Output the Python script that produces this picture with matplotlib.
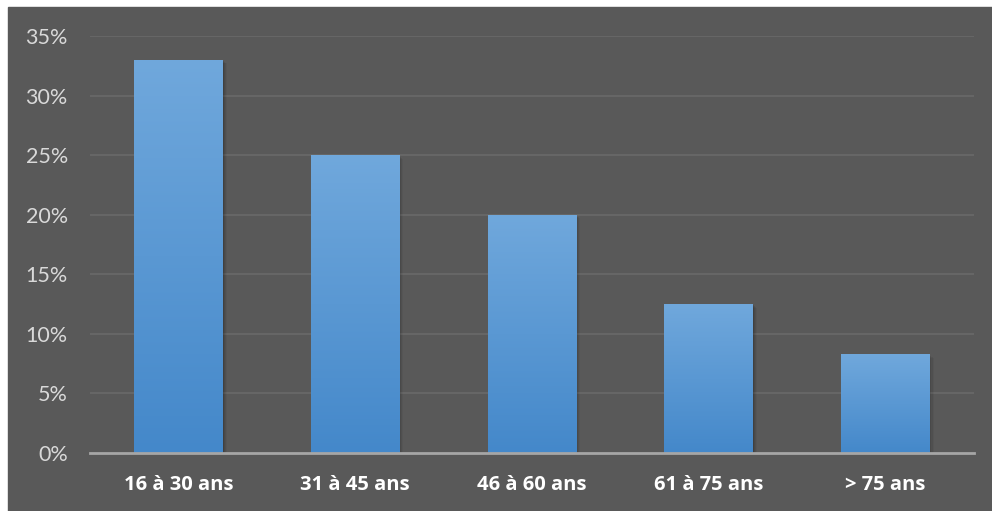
import numpy as np
import matplotlib.pyplot as plt
from matplotlib.patches import Rectangle

# tranches d'age et part en %
categories = ['16 à 30 ans', '31 à 45 ans', '46 à 60 ans', '61 à 75 ans', '> 75 ans']
values = [33, 25, 20, 12.5, 8.3]
yticks = [0, 5, 10, 15, 20, 25, 30, 35]

BG = '#595959'
TOP = np.array([0x70, 0xa8, 0xdc]) / 255
BOTTOM = np.array([0x44, 0x88, 0xca]) / 255

W, H = 992, 511
fig = plt.figure(figsize=(W / 100, H / 100), dpi=100)
fig.patch.set_facecolor('white')
fig.patches.append(Rectangle((8 / W, 0), 1 - 8 / W, (H - 7) / H,
                             transform=fig.transFigure, color=BG, zorder=-10))

ax = fig.add_axes([90 / W, (H - 453) / H, (973.5 - 90) / W, (453 - 36) / H])
ax.set_facecolor(BG)
ax.patch.set_alpha(0)

x = np.arange(len(values))
width = 0.5

# degrade vertical pour chaque barre
grad = np.linspace(0, 1, 256)[:, None, None]
img = BOTTOM + (TOP - BOTTOM) * grad
img = np.repeat(img, 2, axis=1)

for xi, v in zip(x, values):
    # ombre portee
    for k, a in enumerate([0.10, 0.08, 0.06, 0.04]):
        off = 0.006 * (k + 1)
        ax.add_patch(Rectangle((xi - width / 2 + off, -0.25 * (k + 1) * 0.3), width, v,
                               color='black', alpha=a, lw=0, zorder=2))
    bars = ax.bar(xi, v, width, color='none', zorder=3)
    im = ax.imshow(img, extent=(xi - width / 2, xi + width / 2, 0, v),
                   origin='lower', aspect='auto', zorder=3)
    im.set_clip_path(bars[0])

ax.set_xlim(-0.5, len(values) - 0.5)
ax.set_ylim(0, 35)
ax.set_yticks(yticks)
ax.set_yticklabels([f'{t}%' for t in yticks])
ax.set_xticks(x)
ax.set_xticklabels(categories)

for t in yticks[1:]:
    ax.axhline(t, color='#686868', lw=1.3, zorder=1)
ax.axhline(0, color='#a6a6a6', lw=2, zorder=4, clip_on=False)

for s in ax.spines.values():
    s.set_visible(False)
ax.tick_params(length=0)
ax.tick_params(axis='y', pad=16, labelsize=15.5, labelcolor='#d9d9d9')
ax.tick_params(axis='x', pad=15.5, labelsize=14.5, labelcolor='white')
for lab in ax.get_yticklabels():
    lab.set_family('Lato')
for lab in ax.get_xticklabels():
    lab.set_family('Open Sans')
    lab.set_fontweight('bold')

fig.savefig('out.png', dpi=100, facecolor=fig.get_facecolor())
